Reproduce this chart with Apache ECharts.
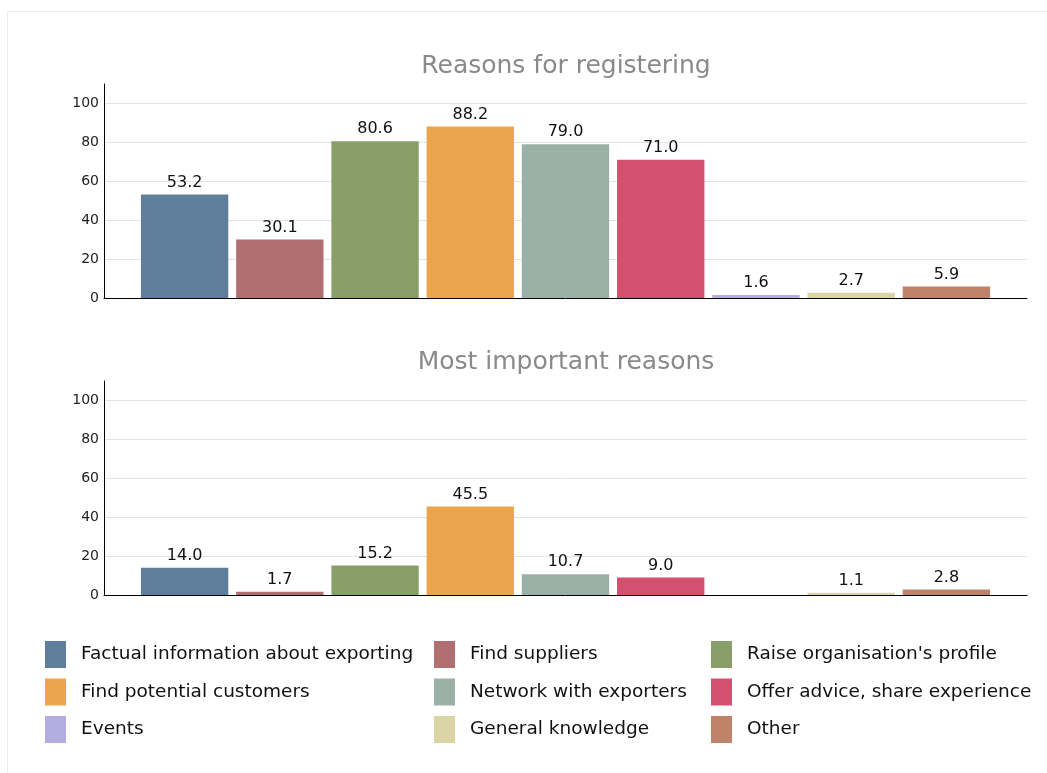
<!DOCTYPE html>
<html><head><meta charset="utf-8">
<script src="https://cdn.jsdelivr.net/npm/echarts@6/dist/echarts.min.js"></script>
<style>
html,body{margin:0;padding:0;background:#fff;overflow:hidden}
#frame{position:absolute;left:7px;top:11px;width:1100px;height:800px;border:1px solid #ebebeb;}
#chart{position:absolute;left:0;top:0;width:1047px;height:773px;}
</style></head>
<body><div id="frame"></div><div id="chart"></div>
<script>
const categories = ["Factual information about exporting","Find suppliers","Raise organisation's profile","Find potential customers","Network with exporters","Offer advice, share experience","Events","General knowledge","Other"];
const registering = [53.2, 30.1, 80.6, 88.2, 79.0, 71.0, 1.6, 2.7, 5.9];
const mostImportant = [14.0, 1.7, 15.2, 45.5, 10.7, 9.0, null, 1.1, 2.8];
const colors = ['#5f7e9b','#b16f71','#889f69','#eba54c','#9bb1a8','#d54f6f','#b3ade0','#dbd5a5','#bf836b'];
const titles = ['Reasons for registering','Most important reasons'];
const yTicks = {min:0, max:110, interval:20};

const FONT = 'DejaVu Sans, sans-serif';
const chart = echarts.init(document.getElementById('chart'), null, {renderer:'canvas'});
const grids = [
  {left:104, right:20, top:84, height:214},
  {left:104, right:20, top:381, height:214}
];
function yAxis(i){
  return {type:'value', gridIndex:i, min:yTicks.min, max:yTicks.max, interval:yTicks.interval,
    axisLine:{show:true, lineStyle:{color:'#000', width:1}},
    axisTick:{show:false},
    axisLabel:{color:'#222', fontSize:14, fontFamily:FONT, showMaxLabel:false, margin:5},
    splitLine:{show:true, showMaxLine:false, lineStyle:{color:'#e4e4e4', width:1}}};
}
function xAxis(i){
  return {type:'category', gridIndex:i, data:[''],
    axisLine:{show:true, lineStyle:{color:'#000', width:1}},
    axisTick:{show:false}, axisLabel:{show:false}, splitLine:{show:false}};
}
const series = [];
[registering, mostImportant].forEach((vals, gi) => {
  categories.forEach((name, ci) => {
    series.push({
      type:'bar', name:name, xAxisIndex:gi, yAxisIndex:gi,
      data:[vals[ci]],
      itemStyle:{color:colors[ci]},
      barCategoryGap:'8%', barGap:'9%',
      label:{show:true, position:'top', distance:4, color:'#111', fontSize:16,
        fontFamily:FONT,
        formatter:p => (p.value == null ? '' : Number(p.value).toFixed(1))},
      emphasis:{disabled:true}
    });
  });
});
const legendCols = [[0,3,6],[1,4,7],[2,5,8]];
const legendLeft = [45, 434, 711];
const legends = legendCols.map((col, k) => ({
  orient:'vertical', left:legendLeft[k], top:641, padding:0,
  itemWidth:21, itemHeight:27, itemGap:10.5,
  icon:'rect',
  textStyle:{fontSize:18.5, color:'#111', fontFamily:FONT, padding:[0,0,0,10]},
  data:col.map(i => categories[i]),
  selectedMode:false
}));
chart.setOption({
  animation:false,
  backgroundColor:'transparent',
  color:colors,
  title: titles.map((t,i) => ({text:t, left:566, textAlign:'center', top: i===0 ? 54 : 350, padding:0,
    textStyle:{fontSize:25, fontWeight:'normal', color:'#8a8a8a', fontFamily:FONT}})),
  grid: grids,
  xAxis:[xAxis(0), xAxis(1)],
  yAxis:[yAxis(0), yAxis(1)],
  legend: legends,
  series: series
});
</script></body></html>
